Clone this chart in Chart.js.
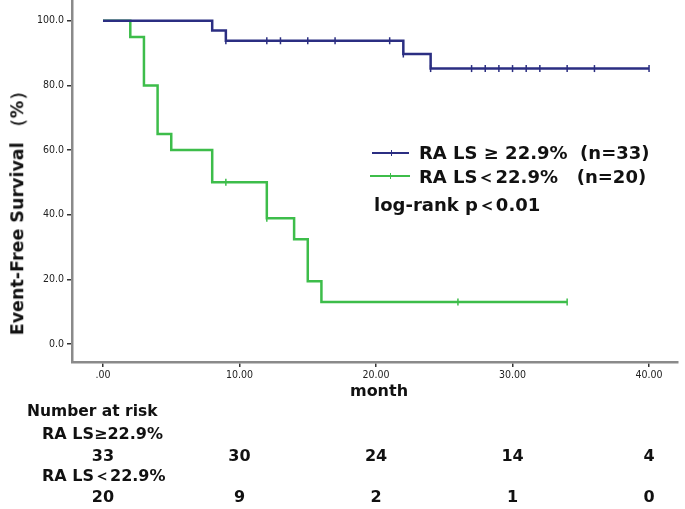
<!DOCTYPE html>
<html>
<head>
<meta charset="utf-8">
<script src="https://cdn.jsdelivr.net/npm/chart.js@4/dist/chart.umd.min.js"></script>
<style>
  html, body { margin: 0; padding: 0; background: #fff; }
  #wrap { position: relative; width: 685px; height: 509px; overflow: hidden; }
  #wrap canvas { position: absolute; left: 0; top: -4px; }
  .t { position: absolute; white-space: pre; font-family: "DejaVu Sans", sans-serif; font-weight: bold; color: #111; line-height: 1; }
  .sample { position: absolute; height: 0; border-top: 2px solid; }
  .sample i { position: absolute; left: 50%; top: -4px; width: 1px; height: 6px; }
</style>
</head>
<body>
<div id="wrap">
  <canvas id="myChart" width="685" height="513"></canvas>

  <div class="t" id="ytitle" style="font-size:17.5px; left:18px; top:209px; transform: translate(-50%,-50%) rotate(-90deg);">Event-Free Survival （%）</div>
  <div class="t" style="font-size:16px; left:379px; top:391px; transform: translate(-50%,-50%);">month</div>

  <div class="sample" style="left:372px; top:152px; width:37px; border-color:#2b2e82;"><i style="background:#2b2e82"></i></div>
  <div class="t" style="font-size:18px; left:419px; top:153px; transform: translateY(-50%);">RA LS ≥ 22.9%  (n=33)</div>
  <div class="sample" style="left:370px; top:175px; width:40px; border-color:#3dbd4a;"><i style="background:#3dbd4a"></i></div>
  <div class="t" style="font-size:18px; left:419px; top:177px; transform: translateY(-50%);">RA LS＜22.9%   (n=20)</div>
  <div class="t" style="font-size:18px; left:374px; top:205px; transform: translateY(-50%);">log-rank p＜0.01</div>

  <div class="t" style="font-size:15.5px; left:27px; top:412px; transform: translateY(-50%);">Number at risk</div>
  <div class="t" style="font-size:16px; left:42px; top:434px; transform: translateY(-50%);">RA LS≥22.9%</div>
  <div class="t" style="font-size:16px; left:42px; top:476px; transform: translateY(-50%);">RA LS＜22.9%</div>
  <div id="risk"></div>
</div>

<script>
// Kaplan-Meier steps
const blueTimes = [0, 8, 9, 22, 24, 40];
const blueSurv = [100, 97.0, 93.8, 89.7, 85.2, 85.2];
const blueCensor = [9, 12, 13, 15, 17, 21, 22, 24, 27, 28, 29, 30, 31, 32, 34, 36, 40];

const greenTimes = [0, 2, 3, 4, 5, 8, 12, 14, 15, 16, 34];
const greenSurv = [100, 95, 80, 65, 60, 50, 38.9, 32.4, 19.4, 13.0, 13.0];
const greenCensor = [9, 12, 26, 34];

const xTicks = [0, 10, 20, 30, 40];
const yTicks = [0, 20, 40, 60, 80, 100];

// number at risk table
const riskTimes = [0, 10, 20, 30, 40];
const riskHigh = [33, 30, 24, 14, 4];
const riskLow = [20, 9, 2, 1, 0];

const BLUE = '#2b2e82';
const GREEN = '#3dbd4a';

function steps(times, surv) {
    return times.map((t, i) => ({ x: t, y: surv[i] }));
}
function censorPts(cens, times, surv) {
    return cens.map(t => {
        let s = surv[0];
        times.forEach((tt, i) => { if (tt <= t) s = surv[i]; });
        return { x: t, y: s };
    });
}

const riskDiv = document.getElementById('risk');
const riskEls = [];
[[riskHigh, 456], [riskLow, 497]].forEach(([row, top]) => {
    row.forEach((v, i) => {
        let d = document.createElement('div');
        d.className = 't';
        d.style.fontSize = '16px';
        d.style.top = top + 'px';
        d.style.transform = 'translate(-50%,-50%)';
        d.textContent = v;
        riskDiv.appendChild(d);
        riskEls.push([d, riskTimes[i]]);
    });
});

const placeRisk = {
    id: 'placeRisk',
    afterRender(chart) {
        riskEls.forEach(([d, t]) => {
            d.style.left = chart.scales.x.getPixelForValue(t) + 'px';
        });
    }
};

const tickFont = { family: '"Liberation Sans Narrow", "DejaVu Sans Condensed", sans-serif', size: 10.5 };

let ctx = document.getElementById('myChart').getContext('2d');
let kmChart = new Chart(ctx, {
    type: 'scatter',
    data: {
        datasets: [
            {
                data: steps(blueTimes, blueSurv),
                showLine: true, stepped: true,
                borderColor: BLUE, borderWidth: 2.5, pointRadius: 0
            },
            {
                data: censorPts(blueCensor, blueTimes, blueSurv),
                showLine: false, pointStyle: 'line', rotation: 90,
                pointRadius: 3.5, borderColor: BLUE, borderWidth: 1.5
            },
            {
                data: steps(greenTimes, greenSurv),
                showLine: true, stepped: true,
                borderColor: GREEN, borderWidth: 2.5, pointRadius: 0
            },
            {
                data: censorPts(greenCensor, greenTimes, greenSurv),
                showLine: false, pointStyle: 'line', rotation: 90,
                pointRadius: 3.5, borderColor: GREEN, borderWidth: 1.5
            }
        ]
    },
    options: {
        responsive: false,
        animation: false,
        layout: { padding: { top: 0, right: 7, left: 0, bottom: 0 } },
        plugins: { legend: { display: false }, tooltip: { enabled: false } },
        elements: { point: { hoverRadius: 0 } },
        scales: {
            x: {
                type: 'linear',
                min: -2.27, max: 42.12,
                afterBuildTicks: s => { s.ticks = xTicks.map(v => ({ value: v })); },
                afterFit: s => { s.height = 147; s.paddingLeft = 0; s.paddingRight = 0; },
                ticks: {
                    callback: v => v === 0 ? '.00' : v.toFixed(2),
                    font: tickFont, color: '#222', padding: 2, maxRotation: 0
                },
                grid: { drawOnChartArea: false, drawTicks: true, tickLength: 5, color: '#333', lineWidth: 1.5 },
                border: { display: true, color: '#8a8a8a', width: 2.5 }
            },
            y: {
                min: -5.56, max: 106.1,
                afterBuildTicks: s => { s.ticks = yTicks.map(v => ({ value: v })); },
                afterFit: s => { s.width = 72; s.paddingTop = 0; s.paddingBottom = 0; },
                ticks: {
                    callback: v => v.toFixed(1),
                    font: tickFont, color: '#222', padding: 3
                },
                grid: { drawOnChartArea: false, drawTicks: true, tickLength: 5, color: '#333', lineWidth: 1.5 },
                border: { display: true, color: '#8a8a8a', width: 2.5 }
            }
        }
    },
    plugins: [placeRisk]
});
</script>
</body>
</html>
